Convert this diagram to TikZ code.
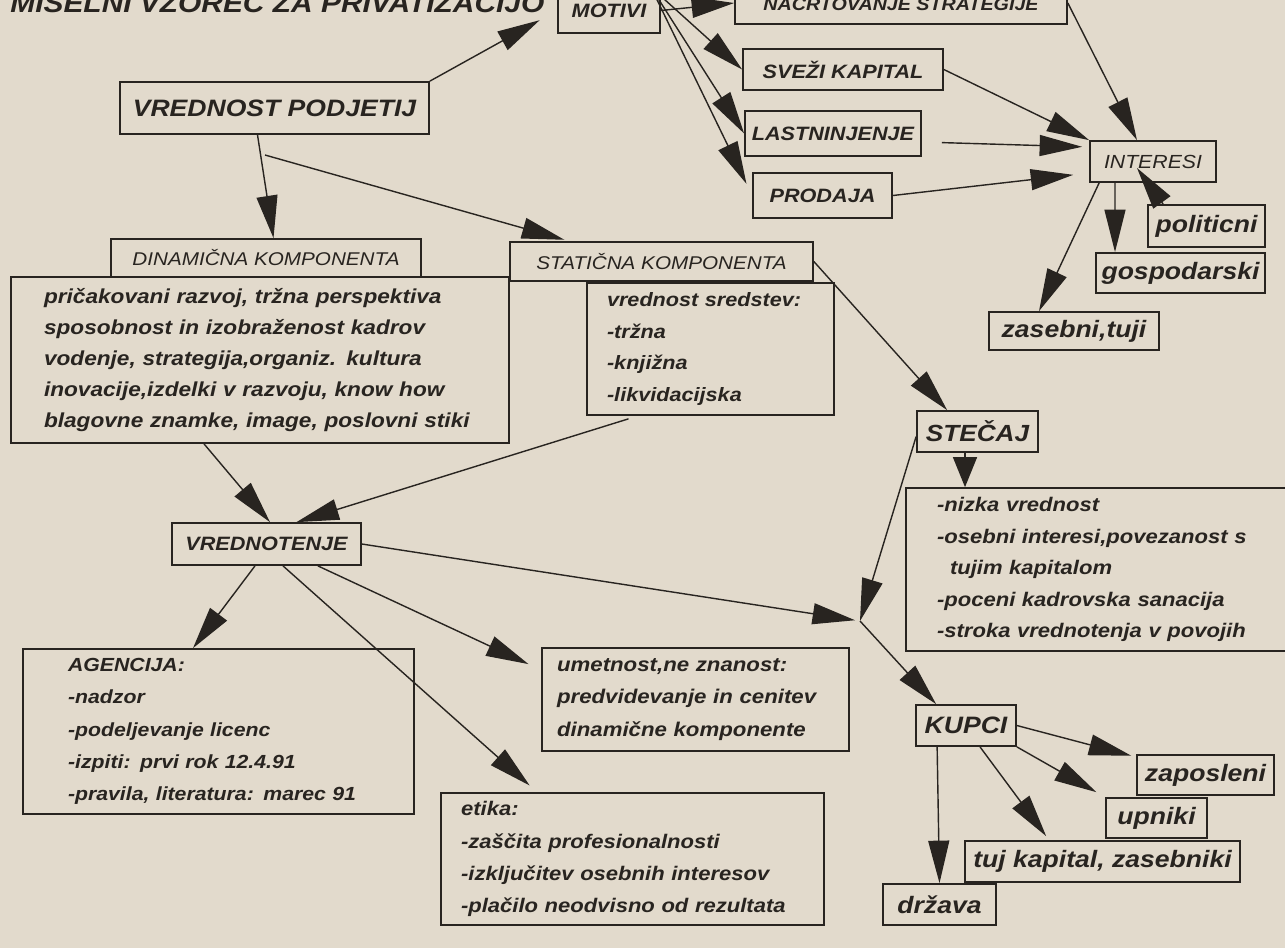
\documentclass[tikz,border=0pt]{standalone}
\usepackage{fontspec}
\setmainfont{Liberation Sans}[FakeStretch=1.12]
\usetikzlibrary{arrows.meta}

\definecolor{paper}{RGB}{226,218,204}
\definecolor{ink}{RGB}{40,36,32}

\tikzset{
  bigtxt/.style={font=\fontsize{13.5}{16}\selectfont\bfseries\itshape},
  midtxt/.style={font=\fontsize{11}{13}\selectfont\bfseries\itshape},
  thintxt/.style={font=\fontsize{10.5}{13}\selectfont\itshape},
  notetxt/.style={align=left,font=\fontsize{11}{18}\selectfont\bfseries\itshape}
}

\begin{document}
\begin{tikzpicture}[x=0.02cm,y=-0.02cm]
\useasboundingbox (0,0) rectangle (1285,948);
\fill[paper] (0,0) rectangle (1285,948);
\clip (0,0) rectangle (1285,948);

\node[anchor=base west,inner sep=0pt,text=ink,font=\fontsize{15.2}{18}\selectfont\bfseries\itshape] (ttl) at (10,12) {MISELNI VZOREC ZA PRIVATIZACIJO};

\coordinate (vpk) at (265,155);
\coordinate (jn) at (860,621);

\begin{scope}[every node/.style={draw=ink,line width=1pt,text=ink,inner sep=0pt}]
    \node[bigtxt,minimum width=6.18cm,minimum height=1.04cm] (vp) at (274.5,108) {VREDNOST PODJETIJ};
    \node[midtxt,minimum width=2.04cm,minimum height=0.9cm] (mot) at (609,10.5) {MOTIVI};
    \node[font=\fontsize{10}{12}\selectfont\bfseries\itshape,minimum width=6.64cm,minimum height=0.84cm] (nac) at (901,3) {NAČRTOVANJE STRATEGIJE};
    \node[midtxt,minimum width=4cm,minimum height=0.82cm] (sve) at (843,69.5) {SVEŽI KAPITAL};
    \node[midtxt,minimum width=3.52cm,minimum height=0.9cm] (las) at (833,133.5) {LASTNINJENJE};
    \node[midtxt,minimum width=2.78cm,minimum height=0.9cm] (pro) at (822.5,195.5) {PRODAJA};
    \node[font=\fontsize{10.8}{13}\selectfont\itshape,minimum width=2.52cm,minimum height=0.82cm] (int) at (1153,161.5) {INTERESI};
    \node[bigtxt,minimum width=2.34cm,minimum height=0.84cm] (pol) at (1206.5,226) {politicni};
    \node[bigtxt,minimum width=3.38cm,minimum height=0.8cm] (gos) at (1180.5,273) {gospodarski};
    \node[bigtxt,minimum width=3.4cm,minimum height=0.76cm] (zas) at (1074,331) {zasebni,tuji};

    \node[thintxt,minimum width=6.2cm,minimum height=0.76cm] (dinh) at (266,258) {DINAMIČNA KOMPONENTA};
    \node[notetxt,font=\fontsize{11.5}{17.7}\selectfont\bfseries\itshape,minimum width=9.96cm,minimum height=3.32cm,text width=8.64cm] (dinb) at (260,360)
        {pričakovani razvoj, tržna perspektiva\\sposobnost in izobraženost kadrov\\vodenje, strategija,organiz. kultura\\inovacije,izdelki v razvoju, know how\\blagovne znamke, image, poslovni stiki};
    \node[thintxt,minimum width=6.06cm,minimum height=0.78cm] (stah) at (661.5,261.5) {STATIČNA KOMPONENTA};
    \node[notetxt,font=\fontsize{11}{17.9}\selectfont\bfseries\itshape,minimum width=4.94cm,minimum height=2.64cm,text width=4.14cm] (stab) at (710.5,349)
        {vrednost sredstev:\\-tržna\\-knjižna\\-likvidacijska};

    \node[bigtxt,font=\fontsize{13.3}{16}\selectfont\bfseries\itshape,minimum width=2.42cm,minimum height=0.82cm] (ste) at (977.5,431.5) {STEČAJ};
    \node[notetxt,font=\fontsize{11.2}{17.9}\selectfont\bfseries\itshape,minimum width=7.88cm,minimum height=3.26cm,text width=6.64cm] (steb) at (1103,569.5)
        {-nizka vrednost\\-osebni interesi,povezanost s\\\hspace*{0.26cm}tujim kapitalom\\-poceni kadrovska sanacija\\-stroka vrednotenja v povojih};

    \node[midtxt,minimum width=3.78cm,minimum height=0.84cm] (vre) at (266.5,544) {VREDNOTENJE};
    \node[notetxt,font=\fontsize{10.8}{18.4}\selectfont\bfseries\itshape,minimum width=7.82cm,minimum height=3.3cm,text width=6.02cm] (agb) at (218.5,731.5)
        {AGENCIJA:\\-nadzor\\-podeljevanje licenc\\-izpiti: prvi rok 12.4.91\\-pravila, literatura: marec 91};
    \node[notetxt,font=\fontsize{11.3}{18.4}\selectfont\bfseries\itshape,minimum width=6.14cm,minimum height=2.06cm,text width=5.54cm] (umb) at (695.5,699.5)
        {umetnost,ne znanost:\\predvidevanje in cenitev\\dinamične komponente};
    \node[notetxt,font=\fontsize{11.2}{18.3}\selectfont\bfseries\itshape,minimum width=7.66cm,minimum height=2.64cm,text width=6.86cm] (etb) at (632.5,859)
        {etika:\\-zaščita profesionalnosti\\-izključitev osebnih interesov\\-plačilo neodvisno od rezultata};

    \node[bigtxt,minimum width=2cm,minimum height=0.82cm] (kup) at (966,725.5) {KUPCI};
    \node[bigtxt,minimum width=2.74cm,minimum height=0.8cm] (zap) at (1205.5,775) {zaposleni};
    \node[bigtxt,minimum width=2.02cm,minimum height=0.8cm] (upn) at (1156.5,818) {upniki};
    \node[bigtxt,minimum width=5.5cm,minimum height=0.82cm] (tuj) at (1102.5,861.5) {tuj kapital, zasebniki};
    \node[bigtxt,minimum width=2.26cm,minimum height=0.82cm] (drz) at (939.5,904.5) {država};
\end{scope}

\begin{scope}[>={Triangle[length=0.85cm,width=0.42cm]},
              every edge/.style={draw=ink,line width=0.8pt}]
    \path [->] (vp.north east) edge[shorten >=0.4cm] (mot.west);
    \path [->] ([xshift=-0.34cm]vp.south) edge ([xshift=0.15cm]dinh.north);
    \path [->] (vpk) edge[shorten >=0.1cm] ([xshift=1.2cm]stah.north west);
    \path [->] (mot.east) edge (nac.west);
    \path [->] ([xshift=-0.2cm]mot.north east) edge (sve.west);
    \path [->] ([xshift=-0.2cm]mot.north east) edge (las.west);
    \path [->] ([xshift=-0.2cm]mot.north east) edge[shorten >=0.26cm] (pro.west);
    \path [->] (sve.east) edge (int.north west);
    \path [->] (nac.east) edge ([xshift=-0.32cm]int.north);
    \path [->] ([yshift=-0.17cm]las.east) edge[shorten <=0.4cm,shorten >=0.14cm] ([yshift=0.29cm]int.west);
    \path [->] (pro.east) edge[shorten >=0.32cm] ([yshift=-0.23cm]int.west);
    \path [->] ([xshift=0.32cm]pol.north west) edge ([xshift=-0.32cm,yshift=-0.13cm]int.center);
    \path [->] ([xshift=-0.76cm]int.south) edge ([xshift=-1.31cm]gos.north);
    \path [->] ([xshift=0.2cm]int.south west) edge ([xshift=-0.7cm]zas.north);
    \path [->] (stah.east) edge ([xshift=0.62cm]ste.north west);
    \path [-{Triangle[length=0.6cm,width=0.48cm]}] ([xshift=-0.25cm]ste.south) edge ([xshift=-0.25cm]ste.south |- steb.north);
    \path [->] ([xshift=-1.45cm]stab.south) edge[shorten <=0.2cm] ([xshift=0.6cm]vre.north);
    \path [->] ([xshift=-1.12cm]dinb.south) edge ([xshift=0.07cm]vre.north);
    \path [->] (vre.east) edge[shorten >=0.1cm] (jn);
    \path [->] ([yshift=-0.1cm]ste.west) edge (jn);
    \path [->] (jn) edge ([xshift=0.42cm]kup.north west);
    \path [->] ([xshift=-0.23cm]vre.south) edge ([xshift=-0.51cm]agb.north);
    \path [->] ([xshift=-0.88cm]vre.south east) edge[shorten >=0.28cm] ([yshift=0.59cm]umb.west);
    \path [->] ([xshift=0.33cm]vre.south) edge[shorten >=0.2cm] ([xshift=1.94cm]etb.north west);
    \path [->] (kup.east) edge[shorten >=0.1cm] ([yshift=0.36cm]zap.west);
    \path [->] (kup.south east) edge[shorten >=0.2cm] (upn.north west);
    \path [->] ([xshift=0.28cm]kup.south) edge[shorten >=0.1cm] ([xshift=1.7cm]tuj.north west);
    \path [->] ([xshift=0.44cm]kup.south west) edge (drz.north);
\end{scope}
\end{tikzpicture}
\end{document}
